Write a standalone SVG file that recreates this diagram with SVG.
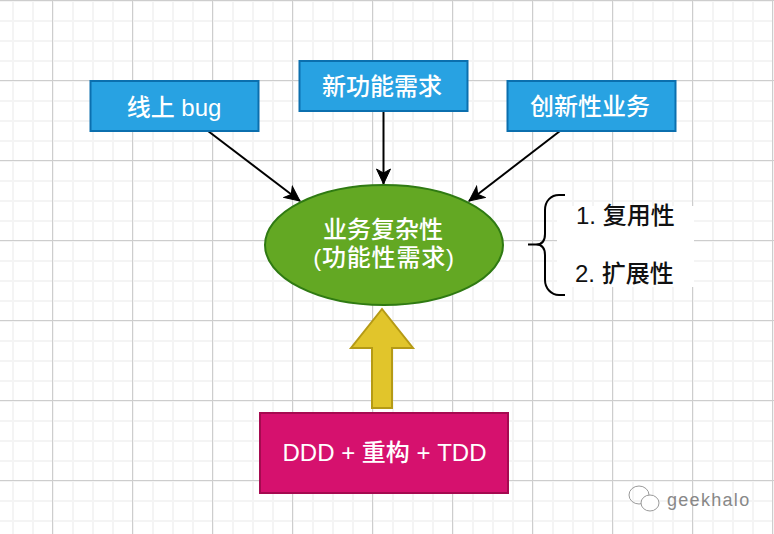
<svg xmlns="http://www.w3.org/2000/svg" width="774" height="534" viewBox="0 0 774 534">
<defs>
<pattern id="minor" width="20" height="20" patternUnits="userSpaceOnUse" x="12" y="0"><path d="M1 0V20M0 1H20" fill="none" stroke="#f4f4f4" stroke-width="2"/></pattern>
<pattern id="major" width="80" height="80" patternUnits="userSpaceOnUse" x="52" y="0"><path d="M0.5 0V80M0 0.5H80" fill="none" stroke="#cdcdcd" stroke-width="1"/></pattern>
<marker id="arrow" markerUnits="userSpaceOnUse" markerWidth="18" markerHeight="16" refX="16" refY="8" orient="auto"><path d="M1 1L16 8L1 15L5 8Z" fill="#000" stroke="#000"/></marker>
</defs>
<style>
.lbl{font-family:"Liberation Sans","Noto Sans CJK SC",sans-serif;font-size:24px;fill:#fff;text-anchor:middle;font-weight:500}
.blk{font-family:"Liberation Sans","Noto Sans CJK SC",sans-serif;font-size:24px;fill:#111;font-weight:500}
.box{fill:#28a2e2;stroke:#0b6fae;stroke-width:2}
.con{fill:none;stroke:#000;stroke-width:2}
</style>
<rect width="774" height="534" fill="#fff"/>
<rect width="774" height="534" fill="url(#minor)"/>
<rect width="774" height="534" fill="url(#major)"/>
<g id="connectors">
<path class="con" d="M208 131L300 201" marker-end="url(#arrow)"/>
<path class="con" d="M383.500 111V184" marker-end="url(#arrow)"/>
<path class="con" d="M560 131L469 201" marker-end="url(#arrow)"/>
</g>
<g id="node-bug"><rect class="box" x="90.500" y="81" width="168" height="50"/><text class="lbl" x="174" y="116">线上 bug</text></g>
<g id="node-feature"><rect class="box" x="299.500" y="61" width="168" height="50"/><text class="lbl" x="382" y="95">新功能需求</text></g>
<g id="node-innovation"><rect class="box" x="507.500" y="81" width="168" height="50"/><text class="lbl" x="590" y="115">创新性业务</text></g>
<g id="node-complexity"><ellipse cx="384" cy="245" rx="119" ry="60" fill="#63a823" stroke="#2f7a12" stroke-width="2"/><text class="lbl"><tspan x="383" y="238">业务复杂性</tspan><tspan x="384" y="266" letter-spacing="0.800">(功能性需求)</tspan></text></g>
<g id="node-brace"><path class="con" d="M528 244.500H536C543 244.500 545 240 545 234V210C545 201 551 195 559 195H565M536 244.500C543 244.500 545 249 545 255V280C545 288 551 295 559 295H565"/></g>
<g id="node-list"><rect x="557" y="206" width="137" height="27" fill="#fff"/><rect x="557" y="233" width="137" height="54" fill="#fff"/><text class="blk" x="576" y="224">1. 复用性</text><text class="blk" x="575" y="282">2. 扩展性</text></g>
<g id="node-arrow"><path d="M372 408V348H351L382 309L413 348H392V408Z" fill="#e1c52b" stroke="#b59a15" stroke-width="2"/></g>
<g id="node-ddd"><rect x="260" y="413" width="248" height="80" fill="#d6116e" stroke="#a50a50" stroke-width="2"/><text class="lbl" x="384.500" y="461">DDD + 重构 + TDD</text></g>
<g id="watermark" fill="none" stroke="#9a9a9a" stroke-width="1"><ellipse cx="639" cy="495" rx="10" ry="9"/><ellipse cx="650" cy="503" rx="9" ry="8" fill="#fff"/><text x="667" y="506" font-family="'Liberation Sans',sans-serif" font-size="18" letter-spacing="1.300" fill="#888" stroke="none">geekhalo</text></g>
</svg>
